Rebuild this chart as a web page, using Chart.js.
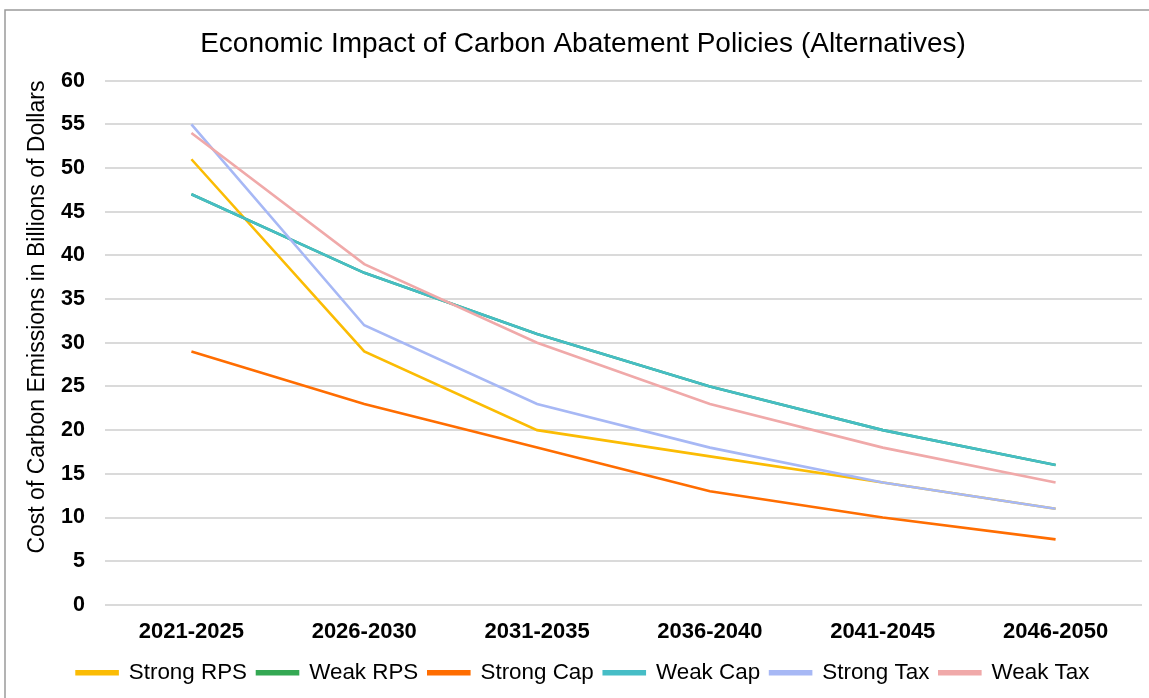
<!DOCTYPE html>
<html>
<head>
<meta charset="utf-8">
<script src="https://cdn.jsdelivr.net/npm/chart.js@4/dist/chart.umd.min.js"></script>
<style>
  html, body { margin: 0; padding: 0; background: #ffffff; }
  #wrap { width: 1149px; height: 698px; position: relative; }
</style>
</head>
<body>
<div id="wrap"><canvas id="chart" width="1149" height="698"></canvas></div>
<script>
// Five-year periods on the horizontal axis
const periods = ['2021-2025', '2026-2030', '2031-2035', '2036-2040', '2041-2045', '2046-2050'];

// Cost of carbon emissions, billions of dollars, per policy alternative
const strongRPS = [51, 29, 20, 17, 14, 11];
const weakRPS   = [47, 38, 31, 25, 20, 16];
const strongCap = [29, 23, 18, 13, 10, 7.5];
const weakCap   = [47, 38, 31, 25, 20, 16];
const strongTax = [55, 32, 23, 18, 14, 11];
const weakTax   = [54, 39, 30, 23, 18, 14];

const seriesNames  = ['Strong RPS', 'Weak RPS', 'Strong Cap', 'Weak Cap', 'Strong Tax', 'Weak Tax'];
const seriesValues = [strongRPS, weakRPS, strongCap, weakCap, strongTax, weakTax];
const seriesColors = ['#fbbc04', '#34a853', '#ff6d01', '#46bdc6', '#a7b8f5', '#f0a9a9'];

const yTickStep = 5;
const yMax = 60;

const FONT = '"Liberation Sans", Arial, Helvetica, sans-serif';

// Thin gray frame around the whole figure
const framePlugin = {
  id: 'frame',
  beforeDraw(chart) {
    const ctx = chart.ctx;
    ctx.save();
    ctx.strokeStyle = '#9a9a9a';
    ctx.lineWidth = 1.5;
    ctx.strokeRect(5, 10, chart.width + 10, chart.height + 10);
    ctx.restore();
  }
};

new Chart(document.getElementById('chart'), {
  type: 'line',
  data: {
    labels: periods,
    datasets: seriesNames.map((name, i) => ({
      label: name,
      data: seriesValues[i],
      borderColor: seriesColors[i],
      backgroundColor: seriesColors[i],
      borderWidth: 2.6,
      pointRadius: 0,
      tension: 0,
      fill: false,
      // later series are painted over earlier ones
      order: seriesNames.length - i
    }))
  },
  options: {
    responsive: false,
    animation: false,
    layout: { padding: { left: 24, right: 7, top: 27, bottom: 4 } },
    plugins: {
      title: {
        display: true,
        text: 'Economic Impact of Carbon Abatement Policies (Alternatives)',
        color: '#000000',
        font: { family: FONT, size: 28, weight: 'normal' },
        padding: { top: 0, bottom: 20 }
      },
      legend: {
        position: 'bottom',
        labels: {
          color: '#000000',
          font: { family: FONT, size: 22.4 },
          boxWidth: 41,
          boxHeight: 3,
          padding: 10,
          sort: (a, b) => a.datasetIndex - b.datasetIndex
        }
      },
      tooltip: { enabled: false }
    },
    scales: {
      x: {
        offset: true,
        grid: { display: false },
        border: { display: false },
        ticks: {
          color: '#000000',
          font: { family: FONT, size: 22, weight: 'bold', lineHeight: 0.85 },
          padding: 10,
          maxRotation: 0
        }
      },
      y: {
        min: 0,
        max: yMax,
        afterFit(scale) { scale.width = 81; },
        grid: { color: '#dadada', lineWidth: 2, drawTicks: false },
        border: { display: false },
        ticks: {
          stepSize: yTickStep,
          color: '#000000',
          font: { family: FONT, size: 21.5, weight: 'bold' },
          padding: 20
        },
        title: {
          display: true,
          text: 'Cost of Carbon Emissions in Billions of Dollars',
          align: 'end',
          color: '#000000',
          font: { family: FONT, size: 23, weight: 'normal' },
          padding: { top: 0, bottom: 8 }
        }
      }
    }
  },
  plugins: [framePlugin]
});
</script>
</body>
</html>
